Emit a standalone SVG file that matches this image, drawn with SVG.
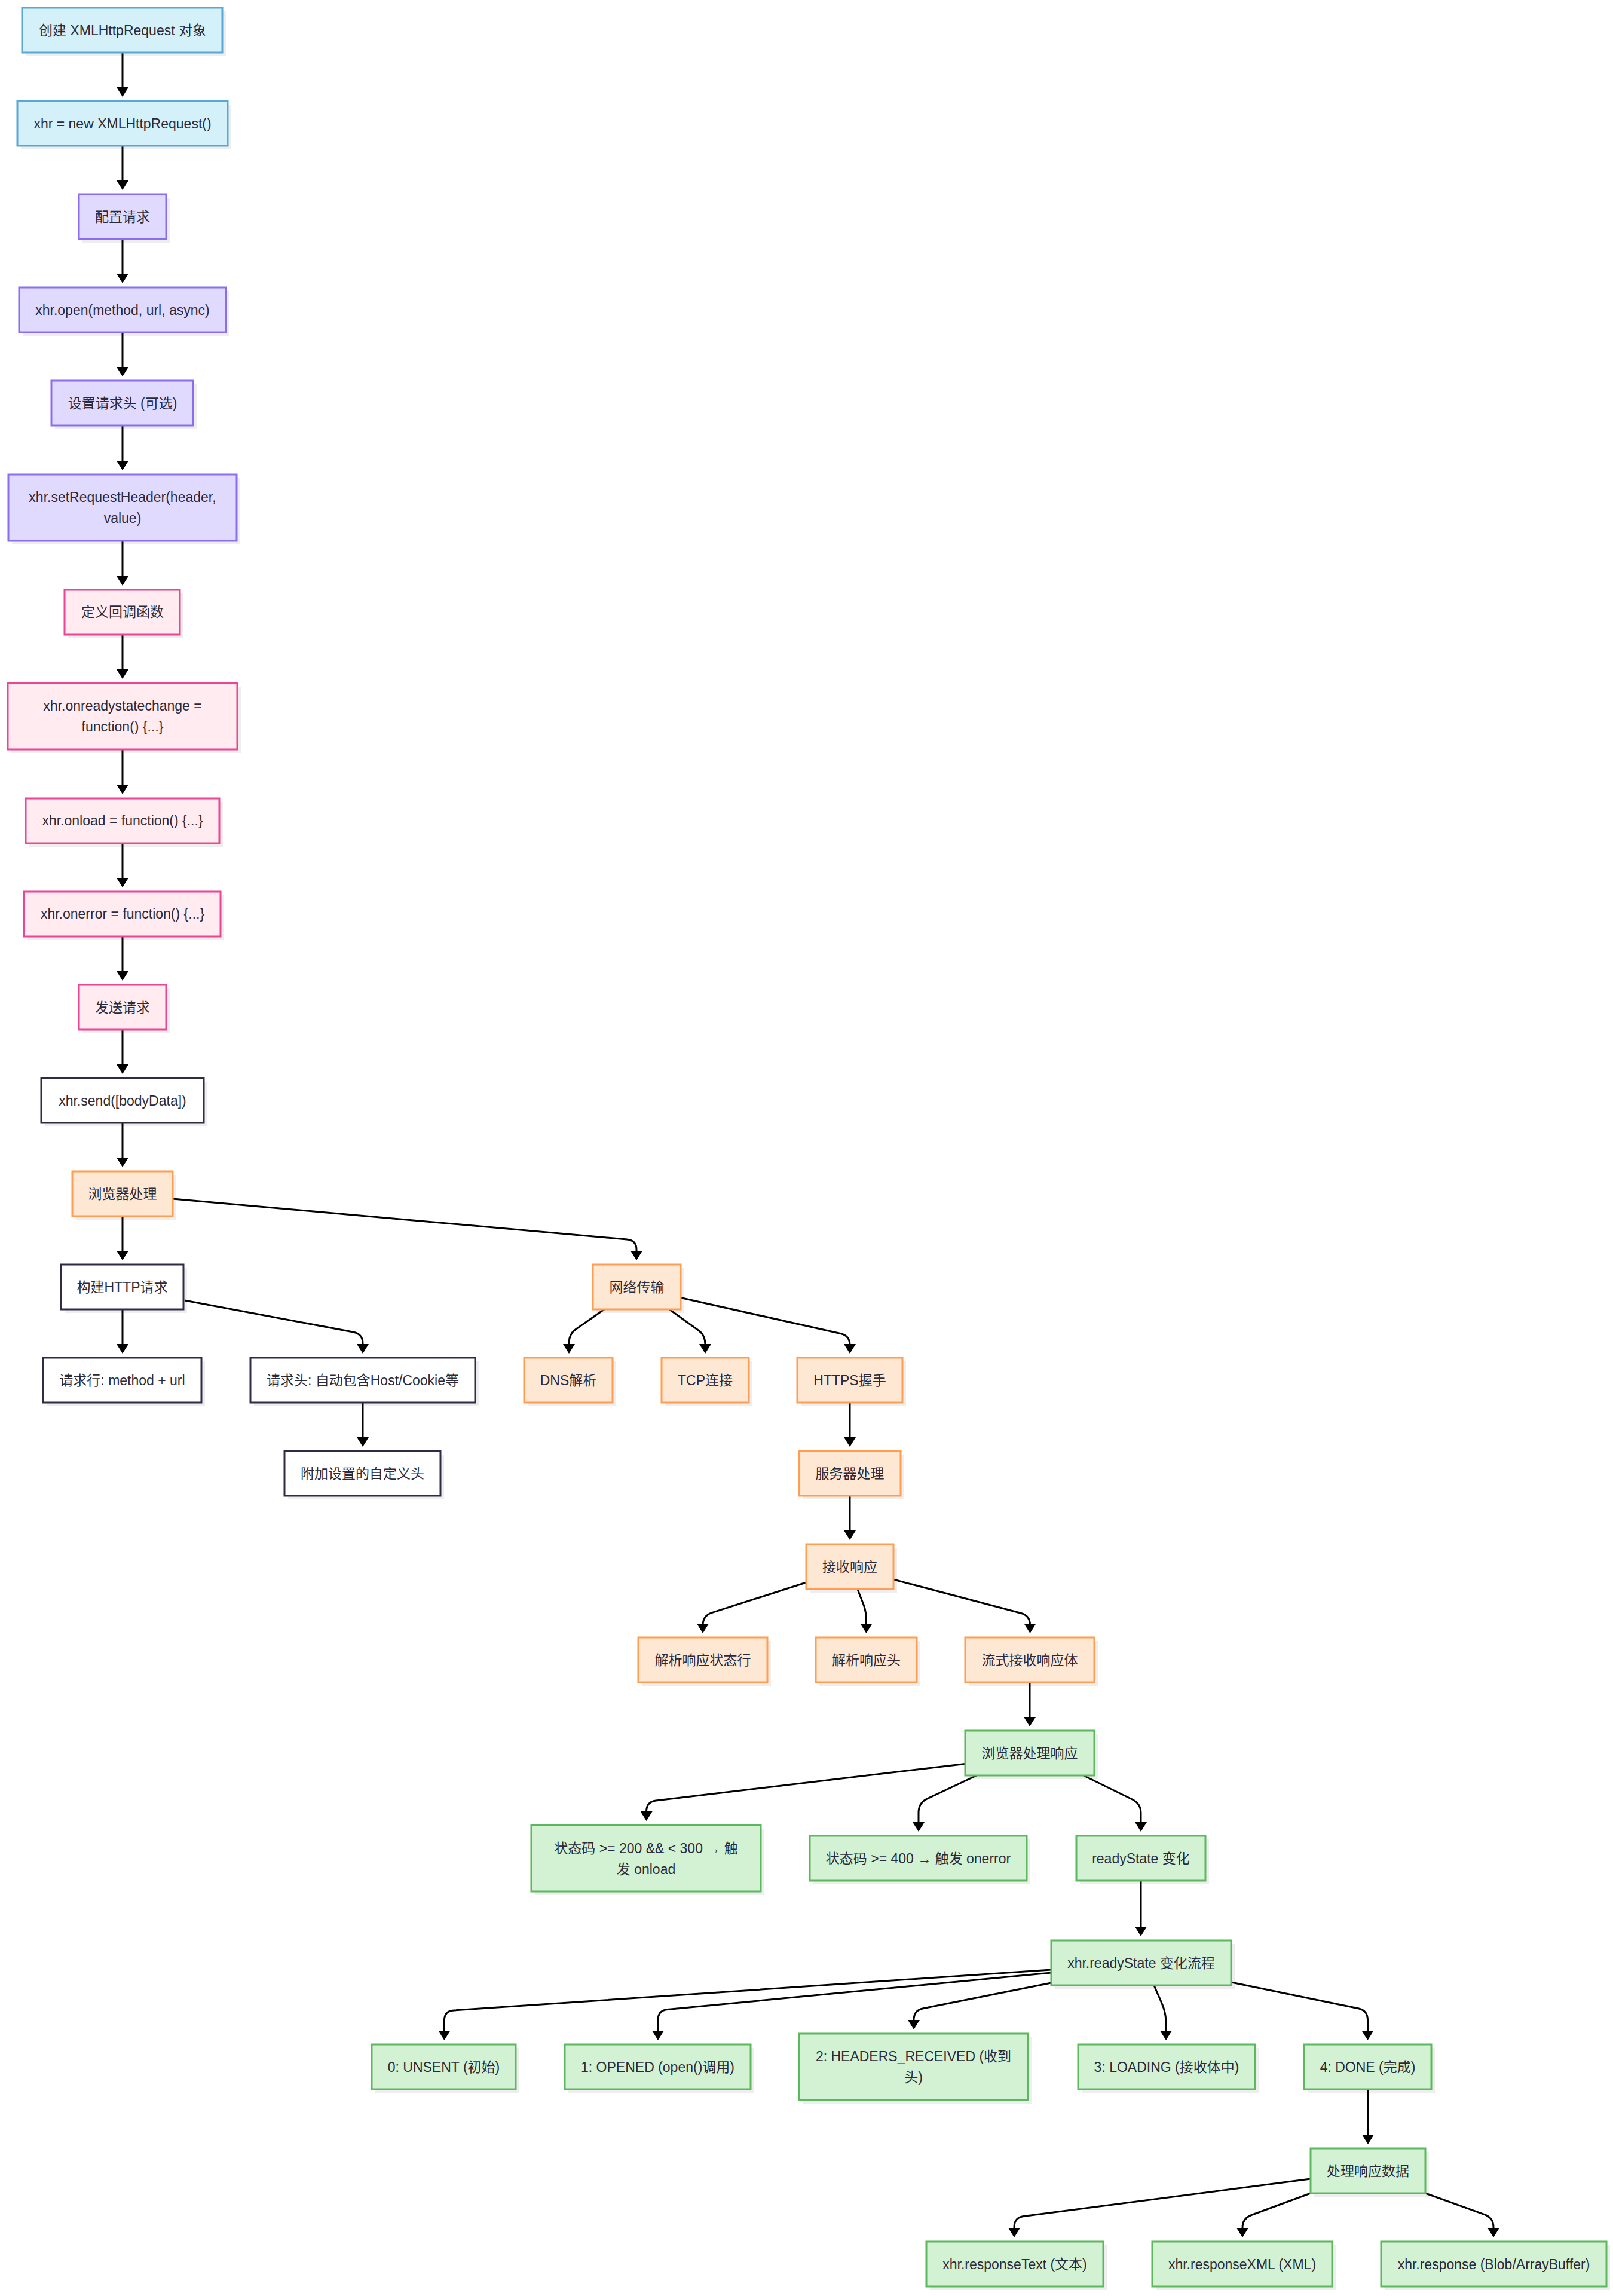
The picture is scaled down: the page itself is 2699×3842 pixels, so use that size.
<svg xmlns="http://www.w3.org/2000/svg" width="2699" height="3842" viewBox="0 0 2699 3842">
<style>
text{font-family:"Liberation Sans","Noto Sans CJK SC",sans-serif;font-size:23px;fill:#2b2a3a;text-anchor:middle}
.sh{fill:#000;fill-opacity:0.065;stroke:none}
.b{stroke-width:3}
.blue .b{fill:#d4f1f9;stroke:#5aa7d6}
.purple .b{fill:#e1daff;stroke:#8b6ef0}
.pink .b{fill:#ffebf0;stroke:#ec4593}
.dark .b{fill:#ffffff;stroke:#2e2c45}
.orange .b{fill:#ffe8d3;stroke:#ff9d52}
.green .b{fill:#d3f2d3;stroke:#5cb85c}
.e{fill:none;stroke:#000;stroke-width:3;marker-end:url(#arr)}
</style>
<defs>
<marker id="arr" viewBox="0 0 16 20" refX="8" refY="10" markerWidth="16" markerHeight="20" markerUnits="userSpaceOnUse" orient="auto"><path d="M0,0 L16,10 L0,20 z" fill="#000"/></marker>
</defs>
<rect width="2699" height="3842" fill="#ffffff"/>
<g id="connectors">
<path class="e" d="M205,88 L205,154"/>
<path class="e" d="M205,244 L205,310"/>
<path class="e" d="M205,400 L205,466"/>
<path class="e" d="M205,556 L205,622"/>
<path class="e" d="M205,712 L205,779"/>
<path class="e" d="M205,905 L205,972"/>
<path class="e" d="M205,1062 L205,1128"/>
<path class="e" d="M205,1254 L205,1321"/>
<path class="e" d="M205,1411 L205,1477"/>
<path class="e" d="M205,1567 L205,1633"/>
<path class="e" d="M205,1723 L205,1789"/>
<path class="e" d="M205,1879 L205,1945"/>
<path class="e" d="M205,2035 L205,2101"/>
<path class="e" d="M205,2191 L205,2257"/>
<path class="e" d="M607,2347 L607,2413"/>
<path class="e" d="M1422,2347 L1422,2413"/>
<path class="e" d="M1422,2503 L1422,2569"/>
<path class="e" d="M1723,2815 L1723,2881"/>
<path class="e" d="M1909,3147 L1909,3232"/>
<path class="e" d="M2289,3496 L2289,3580"/>
<path class="e" d="M289,2006 L1049,2074 Q1065,2075.5 1065,2091 L1065,2101"/>
<path class="e" d="M309,2176 L591,2229 Q607,2232 607,2248 L607,2257"/>
<path class="e" d="M1011,2191 L963.6,2224.2 Q952,2232 952,2248 L952,2257"/>
<path class="e" d="M1120,2191 L1168.5,2226 Q1180,2234 1180,2250 L1180,2257"/>
<path class="e" d="M1139,2171.5 L1406.4,2231.5 Q1422,2235 1422,2251 L1422,2257"/>
<path class="e" d="M1349,2648 L1191,2698.6 Q1176,2703.5 1176,2720 L1176,2725"/>
<path class="e" d="M1435,2659 C1442,2680 1449.5,2690 1449.5,2710 L1449.5,2725"/>
<path class="e" d="M1495,2643 L1708,2699.2 Q1723.5,2703.3 1723.5,2719 L1723.5,2725"/>
<path class="e" d="M1615,2951.5 L1097.5,3013 Q1081.6,3015 1081.6,3031 L1081.6,3039"/>
<path class="e" d="M1634,2971 L1551.5,3009.8 Q1537,3016.5 1537,3033 L1537,3057"/>
<path class="e" d="M1813,2971 L1894.5,3011 Q1909,3018 1909,3034 L1909,3057"/>
<path class="e" d="M1759,3296 L759.4,3364 Q743.4,3365 743.4,3381 L743.4,3406"/>
<path class="e" d="M1759,3301 L1117,3362.5 Q1101,3364 1101,3380 L1101,3406"/>
<path class="e" d="M1759,3318 L1544.7,3360.7 Q1529,3363.8 1529,3380 L1529,3388"/>
<path class="e" d="M1931,3322 C1940,3345 1951,3360 1951,3385 L1951,3406"/>
<path class="e" d="M2060,3317 L2272.8,3360.8 Q2288.5,3364 2288.5,3380 L2288.5,3406"/>
<path class="e" d="M2193,3646 L1712.9,3708.5 Q1697,3710.6 1697,3727 L1697,3736"/>
<path class="e" d="M2193,3670 L2094,3706.5 Q2079,3712 2079,3728 L2079,3736"/>
<path class="e" d="M2385,3670 L2484,3705.6 Q2499,3711 2499,3727 L2499,3736"/>
</g>
<g id="n1" class="blue"><rect class="sh" x="43" y="19" width="335" height="75"/><rect class="b" x="37" y="13" width="335" height="75"/><text x="205" y="58.5">创建 XMLHttpRequest 对象</text></g>
<g id="n2" class="blue"><rect class="sh" x="35" y="175" width="352" height="75"/><rect class="b" x="29" y="169" width="352" height="75"/><text x="205" y="214.6">xhr = new XMLHttpRequest()</text></g>
<g id="n3" class="purple"><rect class="sh" x="138" y="331" width="146" height="75"/><rect class="b" x="132" y="325" width="146" height="75"/><text x="205" y="370.7">配置请求</text></g>
<g id="n4" class="purple"><rect class="sh" x="38" y="487" width="346" height="75"/><rect class="b" x="32" y="481" width="346" height="75"/><text x="205" y="526.8">xhr.open(method, url, async)</text></g>
<g id="n5" class="purple"><rect class="sh" x="92" y="643" width="237" height="75"/><rect class="b" x="86" y="637" width="237" height="75"/><text x="205" y="682.9">设置请求头 (可选)</text></g>
<g id="n6" class="purple"><rect class="sh" x="20" y="800" width="382" height="111"/><rect class="b" x="14" y="794" width="382" height="111"/><text x="205" y="840">xhr.setRequestHeader(header,</text><text x="205" y="875">value)</text></g>
<g id="n7" class="pink"><rect class="sh" x="114" y="993" width="193" height="75"/><rect class="b" x="108" y="987" width="193" height="75"/><text x="205" y="1032.1">定义回调函数</text></g>
<g id="n8" class="pink"><rect class="sh" x="19" y="1149" width="384" height="111"/><rect class="b" x="13" y="1143" width="384" height="111"/><text x="205" y="1189.2">xhr.onreadystatechange =</text><text x="205" y="1224.2">function() {...}</text></g>
<g id="n9" class="pink"><rect class="sh" x="49" y="1342" width="324" height="75"/><rect class="b" x="43" y="1336" width="324" height="75"/><text x="205" y="1381.3">xhr.onload = function() {...}</text></g>
<g id="n10" class="pink"><rect class="sh" x="46" y="1498" width="329" height="75"/><rect class="b" x="40" y="1492" width="329" height="75"/><text x="205" y="1537.4">xhr.onerror = function() {...}</text></g>
<g id="n11" class="pink"><rect class="sh" x="138" y="1654" width="146" height="75"/><rect class="b" x="132" y="1648" width="146" height="75"/><text x="205" y="1693.5">发送请求</text></g>
<g id="n12" class="dark"><rect class="sh" x="75" y="1810" width="272" height="75"/><rect class="b" x="69" y="1804" width="272" height="75"/><text x="205" y="1849.6">xhr.send([bodyData])</text></g>
<g id="n13" class="orange"><rect class="sh" x="127" y="1966" width="168" height="75"/><rect class="b" x="121" y="1960" width="168" height="75"/><text x="205" y="2005.7">浏览器处理</text></g>
<g id="n14" class="dark"><rect class="sh" x="108" y="2122" width="205" height="75"/><rect class="b" x="102" y="2116" width="205" height="75"/><text x="204.5" y="2161.8">构建HTTP请求</text></g>
<g id="n15" class="orange"><rect class="sh" x="998" y="2122" width="147" height="75"/><rect class="b" x="992" y="2116" width="147" height="75"/><text x="1065.5" y="2161.8">网络传输</text></g>
<g id="n16" class="dark"><rect class="sh" x="78" y="2278" width="265" height="75"/><rect class="b" x="72" y="2272" width="265" height="75"/><text x="204.5" y="2317.9">请求行: method + url</text></g>
<g id="n17" class="dark"><rect class="sh" x="425" y="2278" width="376" height="75"/><rect class="b" x="419" y="2272" width="376" height="75"/><text x="607" y="2317.9">请求头: 自动包含Host/Cookie等</text></g>
<g id="n18" class="orange"><rect class="sh" x="883" y="2278" width="148" height="75"/><rect class="b" x="877" y="2272" width="148" height="75"/><text x="951" y="2317.9">DNS解析</text></g>
<g id="n19" class="orange"><rect class="sh" x="1113" y="2278" width="146" height="75"/><rect class="b" x="1107" y="2272" width="146" height="75"/><text x="1180" y="2317.9">TCP连接</text></g>
<g id="n20" class="orange"><rect class="sh" x="1340" y="2278" width="176" height="75"/><rect class="b" x="1334" y="2272" width="176" height="75"/><text x="1422" y="2317.9">HTTPS握手</text></g>
<g id="n21" class="dark"><rect class="sh" x="482" y="2434" width="261" height="75"/><rect class="b" x="476" y="2428" width="261" height="75"/><text x="606.5" y="2474">附加设置的自定义头</text></g>
<g id="n22" class="orange"><rect class="sh" x="1343" y="2434" width="170" height="75"/><rect class="b" x="1337" y="2428" width="170" height="75"/><text x="1422" y="2474">服务器处理</text></g>
<g id="n23" class="orange"><rect class="sh" x="1355" y="2590" width="146" height="75"/><rect class="b" x="1349" y="2584" width="146" height="75"/><text x="1422" y="2630.1">接收响应</text></g>
<g id="n24" class="orange"><rect class="sh" x="1074" y="2746" width="216" height="75"/><rect class="b" x="1068" y="2740" width="216" height="75"/><text x="1176" y="2786.2">解析响应状态行</text></g>
<g id="n25" class="orange"><rect class="sh" x="1371" y="2746" width="169" height="75"/><rect class="b" x="1365" y="2740" width="169" height="75"/><text x="1449.5" y="2786.2">解析响应头</text></g>
<g id="n26" class="orange"><rect class="sh" x="1621" y="2746" width="216" height="75"/><rect class="b" x="1615" y="2740" width="216" height="75"/><text x="1723" y="2786.2">流式接收响应体</text></g>
<g id="n27" class="green"><rect class="sh" x="1621" y="2902" width="216" height="75"/><rect class="b" x="1615" y="2896" width="216" height="75"/><text x="1723" y="2942.3">浏览器处理响应</text></g>
<g id="n28" class="green"><rect class="sh" x="895" y="3060" width="384" height="111"/><rect class="b" x="889" y="3054" width="384" height="111"/><text x="1081" y="3100.5">状态码 &gt;= 200 &amp;&amp; &lt; 300 → 触</text><text x="1081" y="3135.5">发 onload</text></g>
<g id="n29" class="green"><rect class="sh" x="1361" y="3078" width="363" height="75"/><rect class="b" x="1355" y="3072" width="363" height="75"/><text x="1536.5" y="3118">状态码 &gt;= 400 → 触发 onerror</text></g>
<g id="n30" class="green"><rect class="sh" x="1807" y="3078" width="216" height="75"/><rect class="b" x="1801" y="3072" width="216" height="75"/><text x="1909" y="3118">readyState 变化</text></g>
<g id="n31" class="green"><rect class="sh" x="1765" y="3253" width="301" height="75"/><rect class="b" x="1759" y="3247" width="301" height="75"/><text x="1909.5" y="3292.5">xhr.readyState 变化流程</text></g>
<g id="n32" class="green"><rect class="sh" x="628" y="3427" width="241" height="75"/><rect class="b" x="622" y="3421" width="241" height="75"/><text x="742.5" y="3466.5">0: UNSENT (初始)</text></g>
<g id="n33" class="green"><rect class="sh" x="951" y="3427" width="311" height="75"/><rect class="b" x="945" y="3421" width="311" height="75"/><text x="1100.5" y="3466.5">1: OPENED (open()调用)</text></g>
<g id="n34" class="green"><rect class="sh" x="1343" y="3409" width="383" height="111"/><rect class="b" x="1337" y="3403" width="383" height="111"/><text x="1528.5" y="3449">2: HEADERS_RECEIVED (收到</text><text x="1528.5" y="3484">头)</text></g>
<g id="n35" class="green"><rect class="sh" x="1810" y="3427" width="296" height="75"/><rect class="b" x="1804" y="3421" width="296" height="75"/><text x="1952" y="3466.5">3: LOADING (接收体中)</text></g>
<g id="n36" class="green"><rect class="sh" x="2188" y="3427" width="213" height="75"/><rect class="b" x="2182" y="3421" width="213" height="75"/><text x="2288.5" y="3466.5">4: DONE (完成)</text></g>
<g id="n37" class="green"><rect class="sh" x="2199" y="3601" width="192" height="75"/><rect class="b" x="2193" y="3595" width="192" height="75"/><text x="2289" y="3641">处理响应数据</text></g>
<g id="n38" class="green"><rect class="sh" x="1556" y="3757" width="296" height="75"/><rect class="b" x="1550" y="3751" width="296" height="75"/><text x="1698" y="3797">xhr.responseText (文本)</text></g>
<g id="n39" class="green"><rect class="sh" x="1934" y="3757" width="301" height="75"/><rect class="b" x="1928" y="3751" width="301" height="75"/><text x="2078.5" y="3797">xhr.responseXML (XML)</text></g>
<g id="n40" class="green"><rect class="sh" x="2317" y="3757" width="377" height="75"/><rect class="b" x="2311" y="3751" width="377" height="75"/><text x="2499.5" y="3797">xhr.response (Blob/ArrayBuffer)</text></g>
</svg>
